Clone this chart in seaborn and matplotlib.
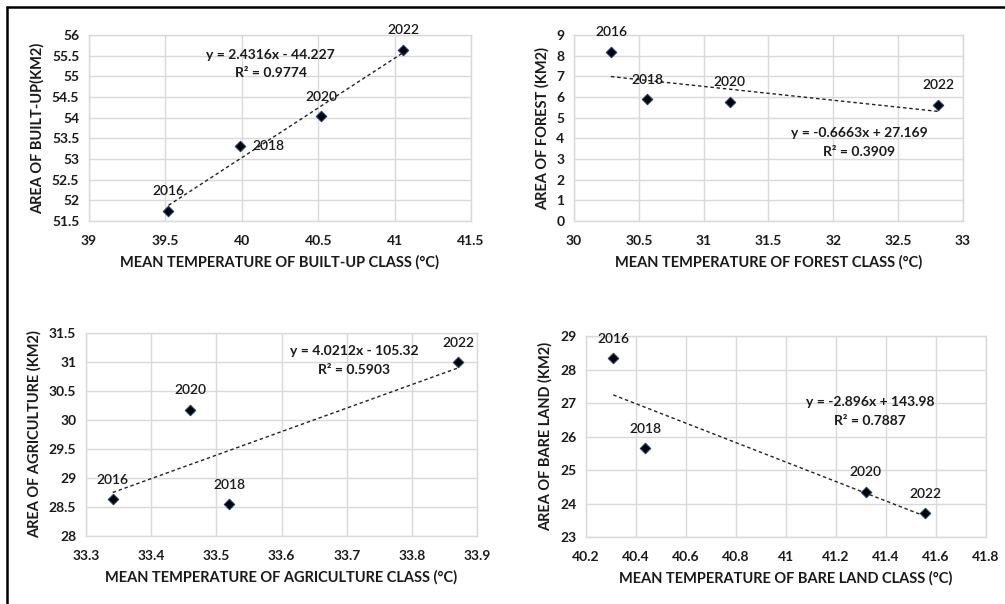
import numpy as np
import pandas as pd
import matplotlib
matplotlib.use("Agg")
import matplotlib.pyplot as plt
import seaborn as sns
from matplotlib.lines import Line2D

sns.set_theme(style="white")
plt.rcParams['font.family'] = ['Lato', 'DejaVu Sans']

years = ["2016", "2018", "2020", "2022"]

builtup_temp = [39.52, 39.99, 40.52, 41.055]
builtup_area = [51.75, 53.32, 54.03, 55.64]

forest_temp = [30.285, 30.565, 31.20, 32.81]
forest_area = [8.19, 5.88, 5.78, 5.62]

agri_temp = [33.341, 33.52, 33.46, 33.871]
agri_area = [28.633, 28.547, 30.176, 31.0]
agri_years = ["2016", "2018", "2020", "2022"]

bare_temp = [40.309, 40.437, 41.319, 41.557]
bare_area = [28.33, 25.65, 24.35, 23.71]

eq_texts = [
    ("y = 2.4316x - 44.227", "R² = 0.9774"),
    ("y = -0.6663x + 27.169", "R² = 0.3909"),
    ("y = 4.0212x - 105.32", "R² = 0.5903"),
    ("y = -2.896x + 143.98", "R² = 0.7887"),
]

panels = [
    dict(x=builtup_temp, y=builtup_area, yrs=years,
         xlim=(39, 41.5), xticks=[39, 39.5, 40, 40.5, 41, 41.5],
         ylim=(51.5, 56), yticks=np.arange(51.5, 56.01, 0.5),
         xlabel="MEAN TEMPERATURE OF BUILT-UP CLASS (°C)",
         ylabel="AREA OF BUILT-UP(KM2)",
         eqpos=(40.19, 55.52, 55.08),
         rect=(89, 35, 471, 221),
         offs={"2018": (20, 0)}),
    dict(x=forest_temp, y=forest_area, yrs=years,
         xlim=(30, 33), xticks=[30, 30.5, 31, 31.5, 32, 32.5, 33],
         ylim=(0, 9), yticks=list(range(0, 10)),
         xlabel="MEAN TEMPERATURE OF FOREST CLASS (°C)",
         ylabel="AREA OF FOREST (KM2)",
         eqpos=(32.20, 4.28, 3.36),
         rect=(574, 35, 963, 221),
         offs={}),
    dict(x=agri_temp, y=agri_area, yrs=agri_years,
         xlim=(33.3, 33.9), xticks=[33.3, 33.4, 33.5, 33.6, 33.7, 33.8, 33.9],
         ylim=(28, 31.5), yticks=np.arange(28, 31.51, 0.5),
         xlabel="MEAN TEMPERATURE OF AGRICULTURE CLASS (°C)",
         ylabel="AREA OF AGRICULTURE (KM2)",
         eqpos=(33.712, 31.19, 30.87),
         rect=(86, 333, 477, 536),
         offs={}),
    dict(x=bare_temp, y=bare_area, yrs=years,
         xlim=(40.2, 41.8), xticks=[40.2, 40.4, 40.6, 40.8, 41, 41.2, 41.4, 41.6, 41.8],
         ylim=(23, 29), yticks=list(range(23, 30)),
         xlabel="MEAN TEMPERATURE OF BARE LAND CLASS (°C)",
         ylabel="AREA OF BARE LAND (KM2)",
         eqpos=(41.336, 27.04, 26.47),
         rect=(586, 336, 986, 537),
         offs={}),
]

W, H = 1005, 604
fig = plt.figure(figsize=(W / 100, H / 100), dpi=100)

def fmt(v):
    s = ("%.1f" % v)
    if s.endswith(".0"):
        s = s[:-2]
    return s

TXT = "#1a1a1a"

for i, p in enumerate(panels):
    l, t, r, b = p["rect"]
    ax = fig.add_axes([l / W, 1 - b / H, (r - l) / W, (b - t) / H])
    df = pd.DataFrame({"x": p["x"], "y": p["y"], "year": p["yrs"]})
    sns.regplot(data=df, x="x", y="y", ax=ax, scatter=False, ci=None, truncate=True,
                line_kws=dict(color="#222222", lw=1.0, ls=(0, (2.5, 2))))
    sns.scatterplot(data=df, x="x", y="y", ax=ax, marker="D", s=28,
                    color="black", edgecolor="#1f3a6e", linewidth=0.8, zorder=5)
    for xi, yi, yr in zip(df["x"], df["y"], df["year"]):
        off = p["offs"].get(yr, (0, 14))
        ax.annotate(yr, (xi, yi), xytext=off, textcoords="offset points",
                    ha="center", va="center", fontsize=10, fontweight="semibold", color=TXT)
    ex, ey1, ey2 = p["eqpos"]
    ax.text(ex, ey1, eq_texts[i][0], ha="center", va="center",
            fontsize=10, fontweight="bold", color=TXT)
    ax.text(ex, ey2, eq_texts[i][1], ha="center", va="center",
            fontsize=10, fontweight="bold", color=TXT)
    ax.set_xlim(*p["xlim"])
    ax.set_ylim(*p["ylim"])
    ax.set_xticks(p["xticks"])
    ax.set_xticklabels([fmt(v) for v in p["xticks"]], fontweight="bold")
    ax.set_yticks(p["yticks"])
    ax.set_yticklabels([fmt(v) for v in p["yticks"]], fontweight="bold")
    ax.grid(True, color="#d9d9d9", lw=1.0)
    ax.set_axisbelow(True)
    for s in ax.spines.values():
        s.set_color("#d9d9d9")
        s.set_linewidth(1.0)
    ax.tick_params(axis="both", length=0, labelsize=10, colors=TXT)
    ax.tick_params(axis="x", pad=10)
    ax.tick_params(axis="y", pad=7)
    ax.set_xlabel(p["xlabel"], fontsize=10.5, fontweight="bold", color=TXT, labelpad=6)
    ax.set_ylabel(p["ylabel"], fontsize=10.5, fontweight="bold", color=TXT, labelpad=5)

# outer frame (top and left edges)
fig.add_artist(Line2D([7 / W, 1], [1 - 7 / H, 1 - 7 / H], color="black", lw=1.8,
                      transform=fig.transFigure))
fig.add_artist(Line2D([7 / W, 7 / W], [0, 1 - 7 / H], color="black", lw=1.8,
                      transform=fig.transFigure))

fig.savefig("out.png", dpi=100)
